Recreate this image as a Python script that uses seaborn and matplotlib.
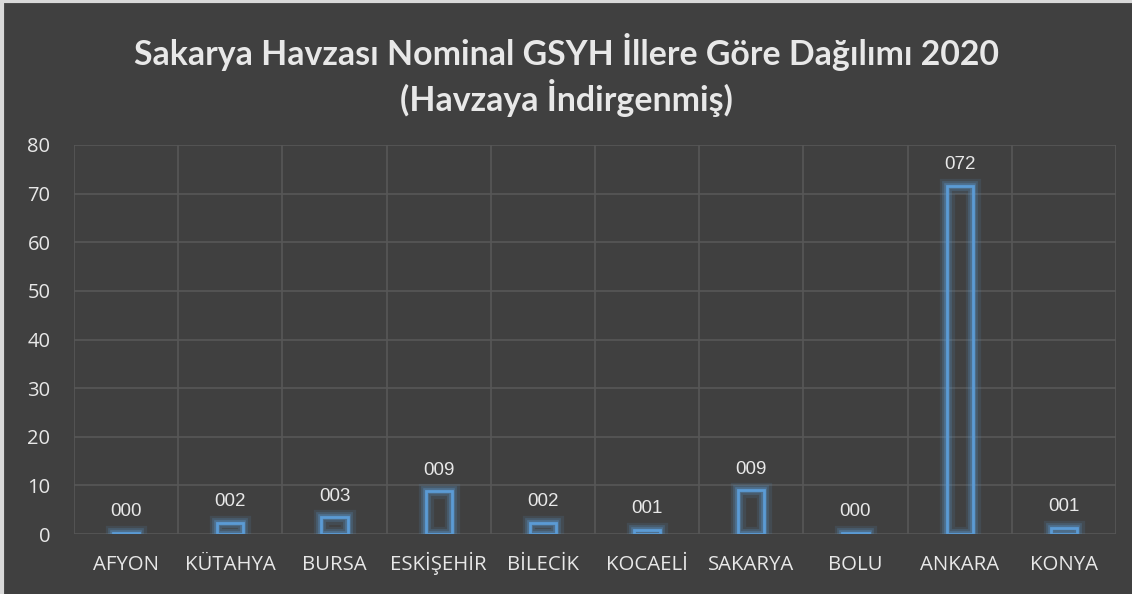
import matplotlib
matplotlib.use("Agg")
import matplotlib.pyplot as plt
import matplotlib.patheffects as pe
from matplotlib.lines import Line2D
import seaborn as sns
import numpy as np

# ── Data ─────────────────────────────────────────────────────────────────────
cities = ["AFYON", "KÜTAHYA", "BURSA", "ESKİŞEHİR", "BİLECİK",
          "KOCAELİ", "SAKARYA", "BOLU", "ANKARA", "KONYA"]
gsyh = [0.3, 2.3, 3.4, 8.8, 2.3, 0.9, 9.0, 0.3, 71.6, 1.3]
yticks = [0, 10, 20, 30, 40, 50, 60, 70, 80]

BG = "#404040"
GRID = "#575757"
BLUE = "#5b9bd5"
TXT = "#e8e8e8"

sns.set_theme(style="dark")
plt.rcParams["font.family"] = ["Open Sans", "DejaVu Sans"]

fig = plt.figure(figsize=(11.32, 5.94), dpi=100, facecolor=BG)
ax = fig.add_axes([74 / 1132, 1 - 534 / 594, (1116 - 74) / 1132, (534 - 145) / 594])
ax.set_facecolor(BG)

sns.barplot(x=cities, y=gsyh, fill=False, color=BLUE, width=0.25,
            linewidth=2.0, ax=ax, errorbar=None)
for p in ax.patches:
    p.set_edgecolor(BLUE)
    p.set_path_effects([pe.Stroke(linewidth=11, foreground=BLUE, alpha=0.12),
                        pe.Stroke(linewidth=7, foreground=BLUE, alpha=0.22),
                        pe.Stroke(linewidth=4, foreground=BLUE, alpha=0.35),
                        pe.Normal()])

ax.bar_label(ax.containers[0], labels=[f"{v:03.0f}" for v in gsyh],
             padding=9, color=TXT, fontsize=13.5, family="Liberation Sans")

ax.set_ylim(0, 80)
ax.set_xlim(-0.5, len(cities) - 0.5)
ax.set_yticks(yticks)
ax.set_xticks(np.arange(-0.5, len(cities)), minor=True)
ax.grid(axis="y", which="major", color=GRID, linewidth=1.2)
ax.grid(axis="x", which="minor", color=GRID, linewidth=1.2)
ax.grid(axis="x", which="major", visible=False)
ax.tick_params(axis="x", which="both", length=0, pad=26, labelsize=14.7,
               labelcolor=TXT, labelfontfamily="Open Sans")
ax.tick_params(axis="y", length=0, pad=17, labelsize=14.5,
               labelcolor=TXT, labelfontfamily="Open Sans")
for lab in ax.get_xticklabels():
    lab.set_verticalalignment("baseline")
for s in ax.spines.values():
    s.set_visible(False)
ax.set_xlabel("")
ax.set_ylabel("")

fig.text(0.5, 1 - 52 / 594, "Sakarya Havzası Nominal GSYH İllere Göre Dağılımı 2020",
         ha="center", va="center", color=TXT, fontsize=24.4, fontweight="bold",
         family="Lato")
fig.text(0.5, 1 - 98 / 594, "(Havzaya İndirgenmiş)",
         ha="center", va="center", color=TXT, fontsize=24.4, fontweight="bold",
         family="Lato")

# light frame on the top and left edges
fig.add_artist(Line2D([0, 1], [0.998, 0.998], color="#d9d9d9", linewidth=3,
                      transform=fig.transFigure))
fig.add_artist(Line2D([0.0015, 0.0015], [0, 1], color="#d9d9d9", linewidth=3,
                      transform=fig.transFigure))

fig.savefig("out.png", dpi=100, facecolor=BG)
